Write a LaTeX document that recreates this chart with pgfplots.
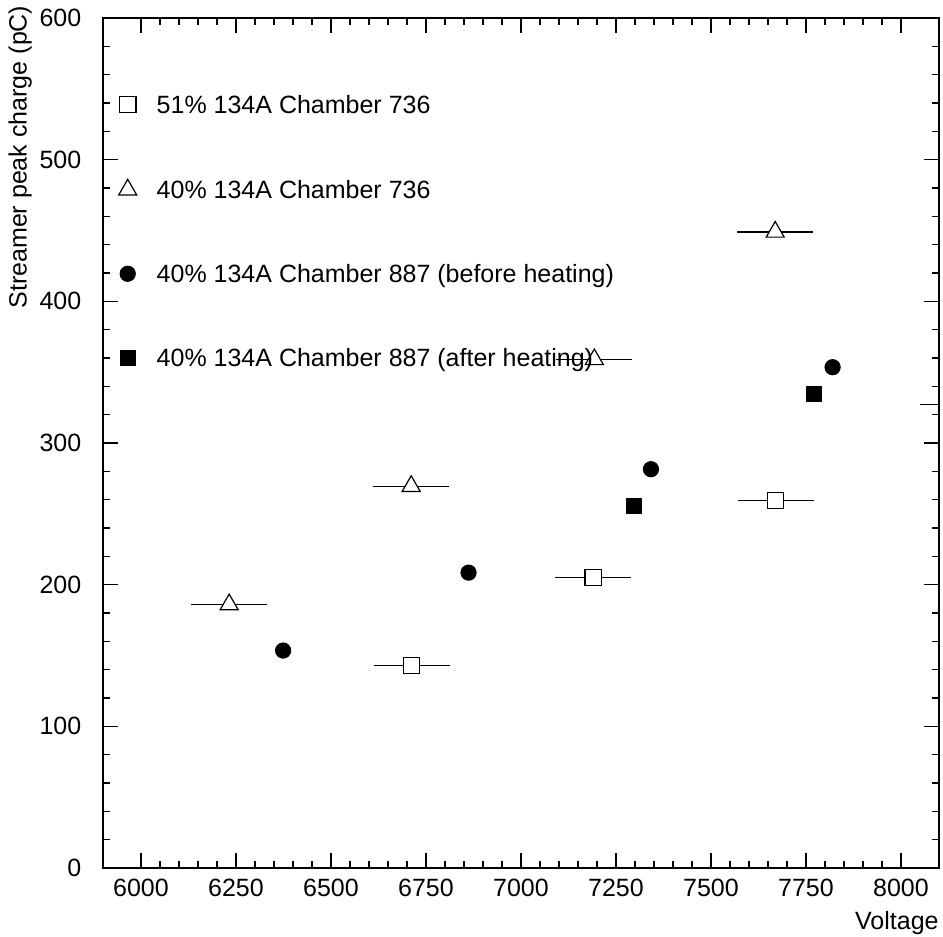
\documentclass[border=0pt]{standalone}
\usepackage{fontspec}
\setmainfont{Liberation Sans}
\usepackage{pgfplots}
\pgfplotsset{compat=1.18}

\begin{document}
\fontsize{12.5}{15}\selectfont
\begin{tikzpicture}
\begin{axis}[
  scale only axis, width=418pt, height=425pt,
  xmin=5900, xmax=8100, ymin=0, ymax=600,
  xtick={6000,6250,...,8000}, minor x tick num=4,
  ytick={0,100,...,600}, minor y tick num=4,
  xtick pos=both, ytick pos=both, tick align=inside,
  major tick length=7.5pt, minor tick length=3.5pt,
  every tick/.style={black, line width=0.6pt},
  axis line style={line width=1pt},
  scaled x ticks=false,
  /pgf/number format/set thousands separator={},
  /pgf/number format/assume math mode=true,
  xticklabel style={yshift=-1pt},
  yticklabel style={xshift=-6.5pt},
  xlabel={Voltage}, ylabel={Streamer peak charge (pC)},
  xlabel style={at={(axis description cs:1,0)}, anchor=north east, inner sep=0pt, yshift=-21.5pt},
  ylabel style={at={(axis description cs:-0.099,1.015)}, anchor=east, inner sep=0pt},
  legend style={draw=none, fill=none, at={(axis description cs:0.0188,0.909)}, anchor=north west,
    inner sep=0pt, outer sep=0pt, row sep=33pt, column sep=10pt,
    nodes={inner sep=0pt, text height=9pt, text depth=0pt}},
  legend cell align=left,
  legend image code/.code={\draw[#1] plot coordinates {(0pt,0pt)};},
]
% 51% 134A chamber 736
\addplot[only marks, mark=square*, mark size=4.1pt, mark options={fill=white, draw=black, line width=0.6pt},
  error bars/.cd, x dir=both, x explicit, error mark=none,
  error bar style={line width=0.6pt, black}]
  coordinates {(6712,143) +- (100,0) (7190,205) +- (100,0) (7670,259.5) +- (100,0)};
\addlegendentry{51\% 134A Chamber 736}
% 40% 134A chamber 736
\addplot[only marks, mark=triangle*, mark size=5.2pt, mark options={fill=white, draw=black, line width=0.6pt},
  error bars/.cd, x dir=both, x explicit, error mark=none,
  error bar style={line width=0.6pt, black}]
  coordinates {(6232,186) +- (100,0) (6711,269.5) +- (100,0) (7193,359) +- (100,0) (7669,449) +- (100,0)};
\addlegendentry{40\% 134A Chamber 736}
% chamber 887 before heating
\addplot[only marks, mark=*, mark size=3.85pt, mark options={fill=black, draw=black}]
  coordinates {(6374,153.5) (6862,208.5) (7342,281.5) (7820,353.5)};
\addlegendentry{40\% 134A Chamber 887 (before heating)}
% chamber 887 after heating
\addplot[only marks, mark=square*, mark size=3.7pt, mark options={fill=black, draw=black}]
  coordinates {(7298,255.5) (7770,334.5)};
\addlegendentry{40\% 134A Chamber 887 (after heating)}
% error bar of a point beyond the x range
\addplot[black, line width=0.6pt, forget plot] coordinates {(8050,327) (8250,327)};
\end{axis}
\pgfresetboundingbox
\path[use as bounding box] ([shift={(-51.5pt,-34.5pt)}]current axis.south west) rectangle ([shift={(2pt,9pt)}]current axis.north east);
\end{tikzpicture}
\end{document}
